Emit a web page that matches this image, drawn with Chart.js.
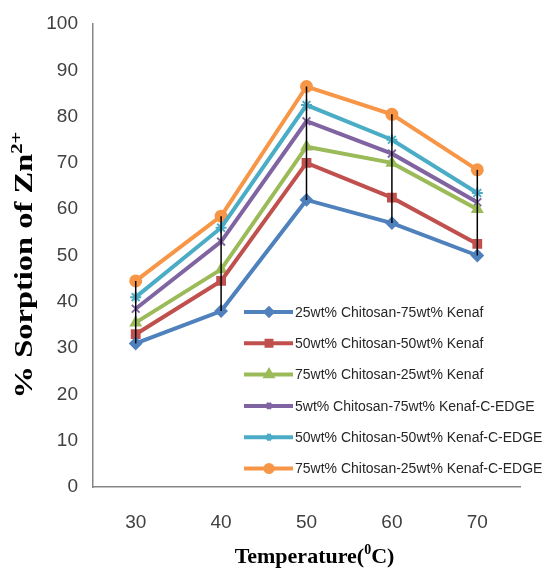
<!DOCTYPE html>
<html>
<head>
<meta charset="utf-8">
<script src="https://cdn.jsdelivr.net/npm/chart.js@4.4.1/dist/chart.umd.min.js"></script>
<style>
  html, body { margin: 0; padding: 0; background: #fff; }
  #wrap { width: 555px; height: 569px; }
</style>
</head>
<body>
<div id="wrap"><canvas id="chart"></canvas></div>
<script>
const temps = ['30', '40', '50', '60', '70']
const yTicks = [0, 10, 20, 30, 40, 50, 60, 70, 80, 90, 100]

const names = [
  '25wt% Chitosan-75wt% Kenaf',
  '50wt% Chitosan-50wt% Kenaf',
  '75wt% Chitosan-25wt% Kenaf',
  '5wt% Chitosan-75wt% Kenaf-C-EDGE',
  '50wt% Chitosan-50wt% Kenaf-C-EDGE',
  '75wt% Chitosan-25wt% Kenaf-C-EDGE'
]
const s1 = [31, 38, 62, 57, 50]
const s2 = [33, 44.5, 70, 62.5, 52.5]
const s3 = [35.5, 47, 73.5, 70, 60]
const s4 = [38.5, 53, 79, 72, 61.5]
const s5 = [41, 56, 82.5, 75, 63.5]
const s6 = [44.5, 58.5, 86.5, 80.5, 68.5]

const colors = ['#4F81BD', '#C0504D', '#9BBB59', '#8064A2', '#4BACC6', '#F79646']
const markers = ['rectRot', 'rect', 'triangle', 'crossRot', 'star', 'circle']
const series = [s1, s2, s3, s4, s5, s6]

// black range bars at each temperature (from lowest to highest series)
const rangeBars = {
  id: 'rangeBars',
  afterDatasetsDraw(chart) {
    const ctx = chart.ctx
    const x = chart.scales.x, y = chart.scales.y
    ctx.save()
    ctx.strokeStyle = '#000'
    ctx.lineWidth = 1.5
    temps.forEach((t, i) => {
      const vals = series.map(s => s[i])
      const px = x.getPixelForValue(i)
      ctx.beginPath()
      ctx.moveTo(px, y.getPixelForValue(Math.max(...vals)))
      ctx.lineTo(px, y.getPixelForValue(Math.min(...vals)))
      ctx.stroke()
    })
    ctx.restore()
  }
}

// text with a raised part, e.g. Zn2+
function drawSup(ctx, base, sup, tail, size, cx, cy, stretch) {
  const f1 = 'bold ' + size + 'px "Liberation Serif", serif'
  const f2 = 'bold ' + Math.round(size * 0.62) + 'px "Liberation Serif", serif'
  ctx.font = f1
  const w1 = ctx.measureText(base).width
  const w3 = ctx.measureText(tail).width
  ctx.font = f2
  const w2 = ctx.measureText(sup).width
  const total = w1 + w2 + w3
  ctx.scale(stretch, 1)
  let x = cx / stretch - total / 2
  ctx.textBaseline = 'alphabetic'
  ctx.textAlign = 'left'
  ctx.fillStyle = '#000'
  ctx.font = f1
  ctx.fillText(base, x, cy)
  x += w1
  ctx.font = f2
  ctx.fillText(sup, x, cy - size * 0.42)
  x += w2
  ctx.font = f1
  ctx.fillText(tail, x, cy)
}

const axisTitles = {
  id: 'axisTitles',
  afterDraw(chart) {
    const ctx = chart.ctx
    const a = chart.chartArea
    ctx.save()
    drawSup(ctx, 'Temperature(', '0', 'C)', 22, (a.left + a.right) / 2 + 8, 563, 1)
    ctx.restore()
    ctx.save()
    ctx.translate(32, 265)
    ctx.rotate(-Math.PI / 2)
    drawSup(ctx, '% Sorption of Zn', '2+', '', 25, 0, 0, 1.3)
    ctx.restore()
  }
}

// legend drawn inside the plot, lower right
const insideLegend = {
  id: 'insideLegend',
  afterDraw(chart) {
    const ctx = chart.ctx
    ctx.save()
    ctx.font = '14px "Liberation Sans", sans-serif'
    ctx.textBaseline = 'middle'
    chart.data.datasets.forEach((ds, i) => {
      const yy = 312 + i * 31.3
      ctx.strokeStyle = ds.borderColor
      ctx.lineWidth = 4
      ctx.beginPath()
      ctx.moveTo(244, yy)
      ctx.lineTo(293, yy)
      ctx.stroke()
      ctx.fillStyle = ds.borderColor
      Chart.helpers.drawPoint(ctx, {
        pointStyle: ds.pointStyle, radius: 3.5, rotation: 0, borderWidth: 2
      }, 269, yy)
      ctx.fillStyle = '#262626'
      ctx.fillText(ds.label, 295, yy + 1)
    })
    ctx.restore()
  }
}

new Chart(document.getElementById('chart'), {
  type: 'line',
  data: {
    labels: temps,
    datasets: series.map((s, i) => ({
      label: names[i],
      data: s,
      borderColor: colors[i],
      backgroundColor: colors[i],
      pointStyle: markers[i],
      pointRadius: 5.5,
      pointBorderWidth: 2,
      borderWidth: 4,
      tension: 0
    }))
  },
  options: {
    responsive: true,
    maintainAspectRatio: false,
    animation: false,
    layout: { padding: { top: 24, right: 35, left: 0, bottom: 0 } },
    plugins: {
      legend: { display: false },
      tooltip: { enabled: false }
    },
    scales: {
      x: {
        offset: true,
        grid: { display: false, drawTicks: false },
        border: { color: '#868686', width: 1.5 },
        ticks: { padding: 24, color: '#404040', font: { family: 'Liberation Sans', size: 19 } },
        afterFit(scale) { scale.height = 82 }
      },
      y: {
        min: 0,
        max: 100,
        afterBuildTicks(scale) { scale.ticks = yTicks.map(v => ({ value: v })) },
        grid: { display: false, drawTicks: true, tickLength: 5, tickColor: '#868686' },
        border: { color: '#868686', width: 1.5 },
        ticks: { padding: 10, color: '#404040', font: { family: 'Liberation Sans', size: 19 } },
        afterFit(scale) { scale.width = 93 }
      }
    }
  },
  plugins: [rangeBars, insideLegend, axisTitles]
})
</script>
</body>
</html>
